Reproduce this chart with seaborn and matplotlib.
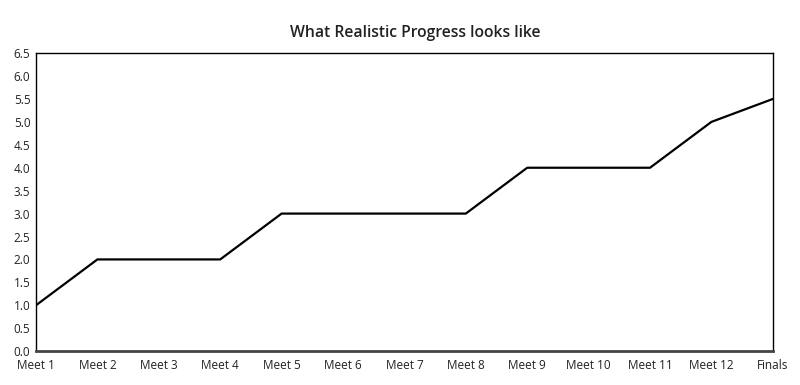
import matplotlib
matplotlib.use("Agg")
import matplotlib.pyplot as plt
import seaborn as sns
import pandas as pd

meets = ["Meet 1", "Meet 2", "Meet 3", "Meet 4", "Meet 5", "Meet 6", "Meet 7",
         "Meet 8", "Meet 9", "Meet 10", "Meet 11", "Meet 12", "Finals"]
progress = [1.0, 2.0, 2.0, 2.0, 3.0, 3.0, 3.0, 3.0, 4.0, 4.0, 4.0, 5.0, 5.5]

df = pd.DataFrame({"meet": range(len(meets)), "progress": progress})

sns.set_style("white")
plt.rcParams["font.family"] = ["Open Sans", "DejaVu Sans"]

fig = plt.figure(figsize=(8, 3.85), dpi=100)
ax = fig.add_axes([0.045, 0.088, 0.921, 0.774])
sns.lineplot(data=df, x="meet", y="progress", color="black", linewidth=1.6, ax=ax)

ax.set_xlim(0, len(meets) - 1)
ax.set_ylim(0, 6.5)
ax.set_xticks(range(len(meets)))
ax.set_xticklabels(meets)
ax.set_yticks([i * 0.5 for i in range(14)])
ax.set_yticklabels([f"{i * 0.5:.1f}" for i in range(14)])
ax.tick_params(axis="both", length=0, labelsize=8.5, colors="#222222")
ax.tick_params(axis="x", pad=6)
ax.tick_params(axis="y", pad=4)
ax.set_xlabel("")
ax.set_ylabel("")

for side in ["top", "left", "right"]:
    ax.spines[side].set_color("black")
    ax.spines[side].set_linewidth(1.0)
ax.spines["bottom"].set_color("#444444")
ax.spines["bottom"].set_linewidth(2.0)

fig.text(0.519, 0.915, "What Realistic Progress looks like", ha="center", va="center",
         fontsize=11.3, fontweight="semibold", color="#222222")

fig.savefig("out.png", dpi=100)
